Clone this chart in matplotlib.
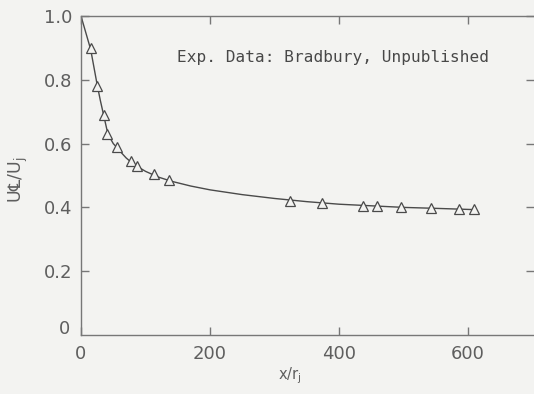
import matplotlib
matplotlib.use("Agg")
import matplotlib.pyplot as plt

# Experimental data (Bradbury)
exp_x = [15, 25, 36, 40, 56, 77, 87, 113, 136, 324, 374, 437, 459, 496, 543, 586, 609]
exp_y = [0.90, 0.78, 0.69, 0.63, 0.59, 0.545, 0.53, 0.505, 0.485,
         0.42, 0.415, 0.405, 0.403, 0.40, 0.398, 0.395, 0.395]

# Prediction curve
curve_x = [0, 5, 10, 15, 20, 25, 30, 35, 40, 45, 50, 56, 60, 70, 80, 90, 100, 120, 140,
           170, 200, 250, 300, 350, 400, 450, 500, 550, 610]
curve_y = [1.0, 0.965, 0.93, 0.895, 0.84, 0.785, 0.735, 0.69, 0.645, 0.618, 0.60,
           0.587, 0.577, 0.555, 0.538, 0.525, 0.513, 0.495, 0.482, 0.467, 0.455,
           0.44, 0.428, 0.418, 0.41, 0.405, 0.40, 0.397, 0.393]

xticks = [0, 200, 400, 600]
xtick_labels = ["0", "200", "400", "600"]
yticks = [0.2, 0.4, 0.6, 0.8, 1.0]
ytick_labels = ["0.2", "0.4", "0.6", "0.8", "1.0"]

bg = "#f3f3f1"
ink = "#4a4a4a"
txt = "#5e5e5e"
axc = "#777777"

fig = plt.figure(figsize=(5.34, 3.94), dpi=100, facecolor=bg)
ax = fig.add_axes([81/534, 59/394, 453/534, 319/394])
ax.set_facecolor(bg)

ax.plot(curve_x, curve_y, color=ink, lw=1.0, zorder=2)
ax.plot(exp_x, exp_y, linestyle="none", marker="^", markersize=6.5,
        markerfacecolor=bg, markeredgecolor=ink, markeredgewidth=0.9, zorder=3)

ax.set_xlim(0, 702)
ax.set_ylim(0, 1.0)

for s in ["left", "bottom", "top"]:
    ax.spines[s].set_color(axc)
    ax.spines[s].set_linewidth(1.0)
ax.spines["right"].set_visible(False)

ax.set_xticks(xticks)
ax.set_xticklabels(xtick_labels)
ax.set_yticks(yticks)
ax.set_yticklabels(ytick_labels)
ax.tick_params(axis="both", direction="in", length=6, width=1.0, color=axc,
               labelsize=13, labelcolor=txt, top=True, right=True)
ax.tick_params(axis="x", pad=7)
ax.tick_params(axis="y", pad=6)

# separate "0" label at origin on y axis
ax.text(-0.025, 0.018, "0", transform=ax.transAxes, ha="right", va="center",
        fontsize=13, color=txt)

ax.text(0.212, 0.87, "Exp. Data: Bradbury, Unpublished", transform=ax.transAxes,
        fontsize=11.6, color="#484848", ha="left", va="center",
        family="DejaVu Sans Mono")

fig.text(18/534, 1 - 180/394, "U℄/U$_{\\rm j}$", rotation=90, ha="center",
         va="center", fontsize=12.5, color=txt)
fig.text(290/534, 1 - 376/394, "x/r$_{\\rm j}$", ha="center", va="center",
         fontsize=10.5, color=txt)

fig.savefig("out.png", dpi=100, facecolor=bg)
